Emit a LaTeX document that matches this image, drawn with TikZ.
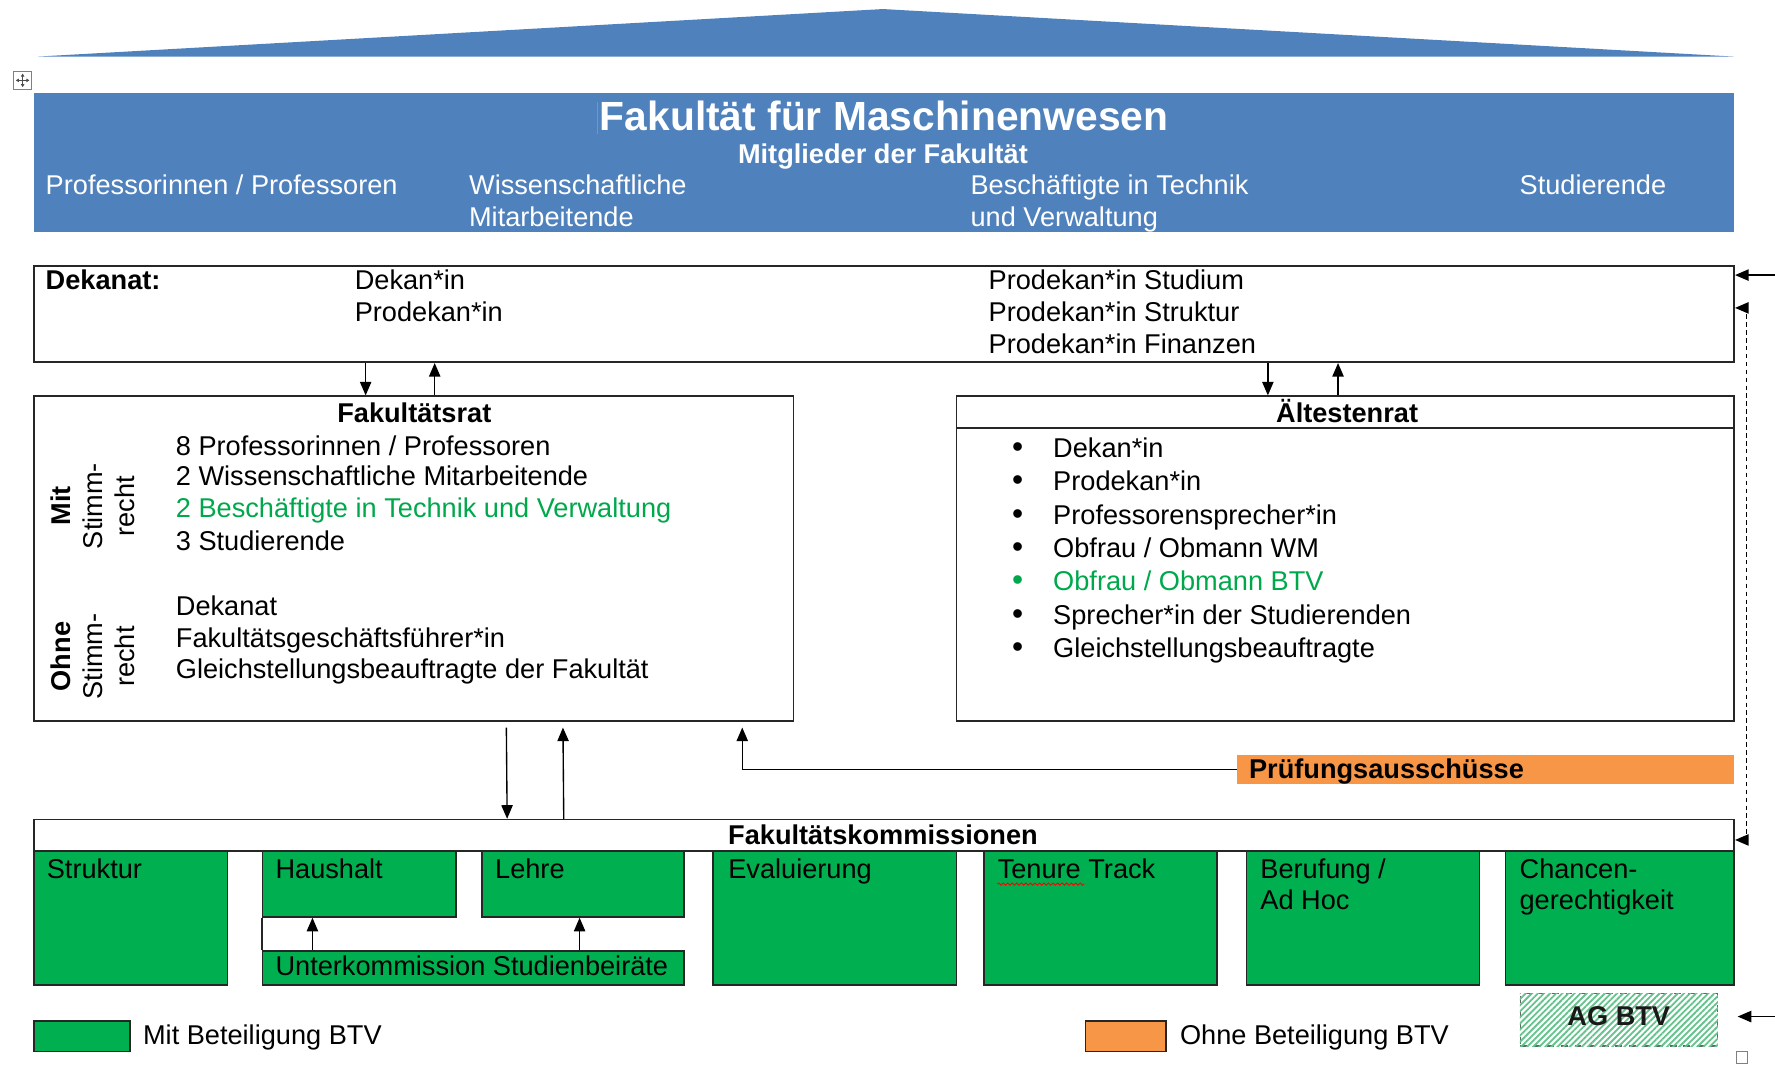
\documentclass[tikz,border=0pt]{standalone}
\usepackage{fontspec}
\setmainfont{Liberation Sans}
\usetikzlibrary{fit,calc,arrows.meta,patterns.meta,decorations.pathmorphing}
\definecolor{hblue}{RGB}{79,129,189}
\definecolor{ggreen}{RGB}{0,176,80}
\definecolor{gtext}{RGB}{0,168,76}
\definecolor{orng}{RGB}{247,150,70}
\definecolor{hatchc}{RGB}{100,195,140}
\tikzset{
  frame/.style={draw=black!85, line width=0.7pt, inner sep=0pt},
  gbox/.style={frame, fill=ggreen},
  tx/.style={inner sep=0pt, anchor=base west, font=\fontsize{12}{14}\selectfont},
  txb/.style={tx, font=\bfseries\fontsize{12}{14}\selectfont},
  txw/.style={tx, text=white},
  tipA/.style={},
  arr/.style={-{Triangle[length=6pt,width=5pt]}, line width=0.6pt},
  rotlab/.style={rotate=90, align=center, inner sep=0pt, font=\fontsize{12}{14}\selectfont},
}
\begin{document}
\begin{tikzpicture}[x=0.5pt,y=-0.5pt]
\useasboundingbox (0,0) rectangle (1568,941);
% roof
\fill[hblue] (33,50) -- (780,8) -- (1532,50) -- cycle;
% move handle icon
\node[draw=gray, line width=0.4pt, minimum size=8pt, inner sep=0pt] (mv) at (20,71) {};
\draw[black!70, line width=0.3pt, {Triangle[length=1.3pt,width=1.5pt]}-{Triangle[length=1.3pt,width=1.5pt]}] ($(mv)+(-6,0)$) -- ($(mv)+(6,0)$);
\draw[black!70, line width=0.3pt, {Triangle[length=1.3pt,width=1.5pt]}-{Triangle[length=1.3pt,width=1.5pt]}] ($(mv)+(0,-6)$) -- ($(mv)+(0,6)$);
% header
\node[fill=hblue, inner sep=0pt, fit={(30,82) (1532,205)}] (hdr) {};
\draw[brown!60!orange, line width=0.6pt] (528,90) -- (528,118);
\node[inner sep=0pt, anchor=base, text=white, font=\bfseries\fontsize{18}{20}\selectfont] (title) at (781,115) {Fakultät für Maschinenwesen};
\node[inner sep=0pt, anchor=base, text=white, font=\bfseries\fontsize{12}{14}\selectfont] (mitgl) at (780,144) {Mitglieder der Fakultät};
\node[txw] (h1) at (40,172) {Professorinnen / Professoren};
\node[txw] (h2a) at (414,172) {Wissenschaftliche};
\node[txw] (h2b) at (414,200) {Mitarbeitende};
\node[txw] (h3a) at (857,172) {Beschäftigte in Technik};
\node[txw] (h3b) at (857,200) {und Verwaltung};
\node[txw] (h4) at (1342,172) {Studierende};
% Dekanat
\node[frame, fit={(30,235) (1532,320)}] (dek) {};
\node[txb] (dekt) at (40,256) {Dekanat:};
\node[tx] (d1) at (313,256) {Dekan*in};
\node[tx] (d2) at (313,284) {Prodekan*in};
\node[tx] (d3) at (873,256) {Prodekan*in Studium};
\node[tx] (d4) at (873,284) {Prodekan*in Struktur};
\node[tx] (d5) at (873,312) {Prodekan*in Finanzen};
% Fakultaetsrat
\node[frame, fit={(30,350) (701,637)}] (rat) {};
\node[txb, anchor=base] (ratt) at (366,373) {Fakultätsrat};
\node[rotlab] (mit) at (82,447) {\textbf{Mit}\\Stimm-\\recht};
\node[rotlab] (ohne) at (82,580) {\textbf{Ohne}\\Stimm-\\recht};
\node[tx] (r1) at (155,402) {8 Professorinnen / Professoren};
\node[tx] (r2) at (155,429) {2 Wissenschaftliche Mitarbeitende};
\node[tx, text=gtext] (r3) at (155,457) {2 Beschäftigte in Technik und Verwaltung};
\node[tx] (r4) at (155,486) {3 Studierende};
\node[tx] (r5) at (155,544) {Dekanat};
\node[tx] (r6) at (155,572) {Fakultätsgeschäftsführer*in};
\node[tx] (r7) at (155,599) {Gleichstellungsbeauftragte der Fakultät};
% Aeltestenrat
\node[frame, fit={(845,350) (1532,637)}] (alt) {};
\draw[line width=0.7pt, black!85] ($(alt.north west)+(0,29)$) -- ($(alt.north east)+(0,29)$);
\node[txb, anchor=base] (altt) at (1190,373) {Ältestenrat};
\foreach \i/\yy/\lab/\col in {1/404/{Dekan*in}/black, 2/433.5/{Prodekan*in}/black, 3/463/{Professorensprecher*in}/black, 4/492.5/{Obfrau / Obmann WM}/black, 5/522/{Obfrau / Obmann BTV}/gtext, 6/551.5/{Sprecher*in der Studierenden}/black, 7/581/{Gleichstellungsbeauftragte}/black}{
  \node[tx, anchor=base, text=\col, font=\fontsize{14}{14}\selectfont] (bul\i) at (899,\yy) {•};
  \node[tx, text=\col] (al\i) at (930,\yy) {\lab};
}
% arrows Dekanat <-> councils
\draw[arr] (323,0 |- dek.south) -- (323,0 |- rat.north);
\draw[arr] (384,0 |- rat.north) -- (384,0 |- dek.south);
\draw[arr] (1120,0 |- dek.south) -- (1120,0 |- alt.north);
\draw[arr] (1182,0 |- alt.north) -- (1182,0 |- dek.south);
% Pruefungsausschuesse
\node[fill=orng, inner sep=0pt, fit={(1093,667) (1532,693)}] (pruef) {};
\node[txb] (pruept) at (1103,688) {Prüfungsausschüsse};
% Fakultaetskommissionen
\node[frame, fill=white, fit={(30,724) (1532,752)}] (kom) {};
\node[txb, anchor=base] (komt) at (780,746) {Fakultätskommissionen};
\draw[arr] ($(rat.south west)+(418,5)$) -- (448,0 |- kom.north);
\draw[arr] (498,0 |- kom.north) -- ($(rat.south west)+(468,5)$);
\draw[arr] (pruef.west) -| ($(rat.south east)+(-46,5)$);
% green commission boxes
\node[gbox, fit={(30,752) (201,870)}] (struk) {};
\node[gbox, fit={(232,752) (403,810)}] (haus) {};
\node[gbox, fit={(426,752) (604,810)}] (lehre) {};
\node[gbox, fit={(232,840) (604,870)}] (ukom) {};
\node[gbox, fit={(630,752) (845,870)}] (eval) {};
\node[gbox, fit={(869,752) (1075,870)}] (ten) {};
\node[gbox, fit={(1101,752) (1307,870)}] (beruf) {};
\node[gbox, fit={(1330,752) (1532,870)}] (chanc) {};
\draw[line width=0.7pt, black!85] (haus.south west) -- (ukom.north west);
\node[tx] (strukt) at (41,776) {Struktur};
\node[tx] (haust) at (243,776) {Haushalt};
\node[tx] (lehret) at (437,776) {Lehre};
\node[tx] (ukomt) at (243,862) {Unterkommission Studienbeiräte};
\node[tx] (evalt) at (643,776) {Evaluierung};
\node[tx] (tent) at (881,776) {Tenure Track};
\draw[red, line width=0.4pt, decorate, decoration={snake, amplitude=0.5pt, segment length=2pt}] (881,781) -- (958,781);
\node[tx] (beruft) at (1113,776) {Berufung /};
\node[tx] (beruft2) at (1113,803) {Ad Hoc};
\node[tx] (chanct) at (1342,776) {Chancen-};
\node[tx] (chanct2) at (1342,803) {gerechtigkeit};
\draw[arr] (276,0 |- ukom.north) -- (276,0 |- haus.south);
\draw[arr] (512,0 |- ukom.north) -- (512,0 |- lehre.south);
% right side connectors
\coordinate (inTop) at (1568,243);
\draw[arr] (inTop) -- (dek.east |- inTop);
\draw[{Triangle[length=6pt,width=5pt]}-{Triangle[length=6pt,width=5pt]}, line width=0.6pt, dash pattern=on 2pt off 1.5pt]
  (dek.east |- 0,272) -- (1543,272) -- (1543,742) -- (kom.east |- 0,742);
% AG BTV
\node[draw=black!60, dashed, line width=0.5pt, fill=white, inner sep=0pt, fit={(1343,878) (1517,924)}] (ag) {};
\fill[pattern={Lines[angle=45,distance=1.9pt,line width=0.8pt]}, pattern color=hatchc] (ag.north west) rectangle (ag.south east);
\node[txb, anchor=base, text=black!90] (agt) at (1430,906) {AG BTV};
\coordinate (inBot) at (1568,898);
\coordinate (tipBot) at (1535,898);
\draw[arr] (inBot) -- (tipBot);
\node[draw=gray, line width=0.4pt, minimum size=5pt, inner sep=0pt] (sq) at (1539,934) {};
% legend
\node[gbox, fit={(30,902) (115,929)}] (lg1) {};
\node[tx] (lg1t) at (126,923) {Mit Beteiligung BTV};
\node[frame, fill=orng, fit={(959,902) (1030,929)}] (lg2) {};
\node[tx] (lg2t) at (1042,923) {Ohne Beteiligung BTV};
\end{tikzpicture}
\end{document}
